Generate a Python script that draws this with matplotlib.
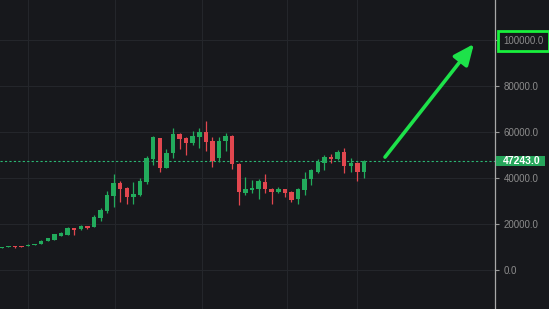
import matplotlib.pyplot as plt
import matplotlib.transforms as mtransforms
from matplotlib.patches import Rectangle
import numpy as np

# weekly candles, values
opens = [9.7, 10.0, 10.5, 10.4, 10.4, 10.9, 11.4, 12.7, 13.1, 15.0,
         15.3, 18.3, 17.7, 19.2, 18.7, 22.6, 25.6, 32.2, 37.7, 35.8,
         31.9, 32.6, 38.1, 48.1, 57.5, 44.5, 50.7, 59.1, 57.5, 55.1,
         58.0, 60.1, 56.1, 48.6, 56.1, 58.3, 46.1, 33.6, 34.8, 35.1,
         38.4, 35.1, 34.1, 35.1, 33.8, 30.7, 34.8, 39.4, 42.7, 46.7,
         49.3, 48.3, 51.2, 45.4, 46.7, 42.7]
highs = [10.0, 10.5, 10.6, 10.5, 11.1, 11.4, 13.0, 14.0, 15.8, 16.6,
         18.7, 18.4, 19.5, 19.3, 23.8, 27.1, 34.5, 41.6, 38.7, 36.0,
         38.1, 39.9, 49.7, 58.4, 57.6, 52.5, 61.6, 59.5, 57.7, 60.4,
         61.6, 64.8, 57.7, 58.0, 59.4, 58.5, 46.5, 40.6, 39.1, 39.5,
         41.6, 35.5, 36.2, 35.3, 34.2, 35.5, 42.5, 44.0, 48.3, 49.8,
         50.4, 52.2, 52.9, 48.6, 47.0, 48.0]
lows = [9.6, 9.9, 9.7, 10.1, 10.3, 10.8, 11.2, 12.6, 13.0, 14.8,
        15.2, 15.3, 17.6, 17.8, 18.6, 21.3, 25.0, 27.5, 29.7, 28.6,
        28.7, 32.0, 37.4, 45.7, 42.7, 44.3, 48.8, 52.5, 50.0, 54.3,
        52.9, 51.9, 44.9, 47.0, 51.9, 43.9, 28.3, 32.6, 33.3, 30.7,
        33.6, 28.6, 33.5, 31.9, 29.4, 28.6, 32.6, 37.0, 42.0, 43.5,
        46.7, 47.8, 42.0, 42.7, 38.8, 40.1]
closes = [9.9, 10.4, 10.2, 10.2, 10.9, 11.3, 12.8, 13.8, 15.6, 16.0,
          18.3, 17.4, 19.3, 18.3, 23.2, 26.1, 32.6, 37.7, 35.2, 31.9,
          33.0, 38.7, 48.8, 57.7, 44.2, 51.0, 59.1, 57.0, 55.3, 58.1,
          59.9, 55.5, 47.5, 56.2, 58.3, 46.0, 34.0, 35.2, 35.8, 38.8,
          35.1, 34.1, 35.1, 33.3, 30.4, 35.1, 39.4, 43.5, 46.8, 49.3,
          48.3, 51.2, 45.4, 46.7, 42.5, 47.243]

last_price = 47243.0
y_ticks = [0, 20000, 40000, 60000, 80000, 100000]
grid_x = [4.0, 17.2, 30.4, 43.3, 53.9]

BG = '#17181c'
UP = '#22ab5c'
DOWN = '#e2474f'


def main():
    o = np.array(opens) * 1000
    h = np.array(highs) * 1000
    l = np.array(lows) * 1000
    c = np.array(closes) * 1000
    x = np.arange(len(o))
    up = c >= o
    colors = np.where(up, UP, DOWN)

    fig = plt.figure(figsize=(5.49, 3.09), dpi=100, facecolor=BG)
    ax = fig.add_axes([0, 0, 495 / 549, 1])
    ax.set_facecolor(BG)

    # grid
    for gx in grid_x:
        ax.axvline(gx, color='#24262b', lw=0.8, zorder=0)
    for gy in y_ticks:
        ax.axhline(gy, color='#24262b', lw=0.8, zorder=0)

    # wicks and bodies
    ax.vlines(x, l, h, colors=colors, lw=0.9, zorder=2)
    body = np.maximum(np.abs(c - o), 350)
    ax.bar(x, body, bottom=np.minimum(o, c), width=0.68,
           color=colors, lw=0, zorder=3)

    # last price line
    ax.axhline(last_price, color='#2bb673', lw=0.8,
               linestyle=(0, (2, 2)), zorder=1)

    ax.set_xlim(-0.26, 74.9)
    ax.set_ylim(-16950, 117400)

    ax.yaxis.tick_right()
    ax.set_yticks(y_ticks, labels=['%.1f' % v for v in y_ticks])
    ax.set_xticks([])
    ax.tick_params(axis='y', colors='#9a9a9a', length=3, width=0.8,
                   labelsize=7, pad=3)
    for lab in ax.get_yticklabels():
        lab.set_fontfamily('Liberation Sans')
        lab.set_color('#8c8c8c')
        if lab.get_text() == '100000.0':
            lab.set_bbox(dict(facecolor='none', edgecolor='#19f03c',
                              lw=2, boxstyle='square,pad=0.55'))
    for side in ['top', 'left', 'bottom']:
        ax.spines[side].set_visible(False)
    ax.spines['right'].set_color('#a8a8a8')
    ax.spines['right'].set_linewidth(0.9)

    # current price tag
    trans = mtransforms.blended_transform_factory(ax.transAxes, ax.transData)
    tag_h = 10 / 309 * (117400 + 16950)
    ax.add_patch(Rectangle((1.002, last_price - tag_h / 2), 0.1, tag_h,
                           transform=trans, facecolor='#26a65b',
                           edgecolor='none', clip_on=False, zorder=5))
    ax.text(1.016, last_price, '%.1f' % last_price, transform=trans,
            ha='left', va='center', color='white', fontsize=7.5,
            fontweight='bold', family='Liberation Sans', zorder=6,
            clip_on=False)

    # arrow
    ax.annotate('', xy=(71.7, 98300), xytext=(58.2, 49100),
                arrowprops=dict(arrowstyle='-|>,head_length=1.25,head_width=0.55',
                                color='#1de24a', lw=2.6, shrinkA=0, shrinkB=0))

    fig.savefig('out.png', dpi=100, facecolor=BG)


if __name__ == '__main__':
    main()
